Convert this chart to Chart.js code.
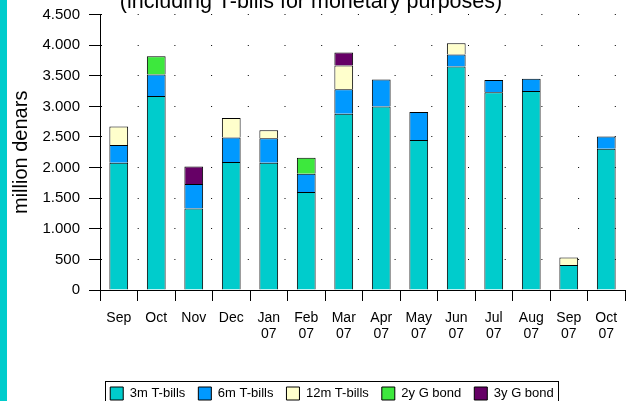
<!DOCTYPE html>
<html>
<head>
<meta charset="utf-8">
<script src="https://cdn.jsdelivr.net/npm/chart.js@4.4.0/dist/chart.umd.min.js"></script>
<style>
  html, body { margin: 0; padding: 0; background: #fff; overflow: hidden; }
  #wrap { position: relative; width: 627px; height: 401px; overflow: hidden; }
  #stripe { position: absolute; left: 0; top: 0; width: 7px; height: 401px; background: #00cccc; }
  canvas { position: absolute; left: 0; top: 0; }
</style>
</head>
<body>
<div id="wrap">
  <canvas id="chart" width="627" height="410" style="width:627px;height:410px"></canvas>
  <div id="stripe"></div>
</div>
<script>
const titleText = '(including T-bills for monetary purposes)';
const months = ['Sep', 'Oct', 'Nov', 'Dec', ['Jan', '07'], ['Feb', '07'], ['Mar', '07'], ['Apr', '07'],
  ['May', '07'], ['Jun', '07'], ['Jul', '07'], ['Aug', '07'], ['Sep', '07'], ['Oct', '07']];

// million denars, stacked
const bills3m  = [2080, 3170, 1330, 2090, 2080, 1600, 2880, 3000, 2450, 3650, 3230, 3250, 410, 2310];
const bills6m  = [290, 350, 400, 400, 400, 300, 400, 440, 460, 200, 200, 200, null, 200];
const bills12m = [300, null, null, 320, 130, null, 390, null, null, 180, null, null, 120, null];
const bond2y   = [null, 300, null, null, null, 260, null, null, null, null, null, null, null, null];
const bond3y   = [null, null, 290, null, null, null, 210, null, null, null, null, null, null, null];

Chart.defaults.font.family = '"Liberation Sans", Arial, sans-serif';
Chart.defaults.color = '#000';

function dots(v) {
  return String(v).replace(/\B(?=(\d{3})+(?!\d))/g, '.');
}

// title sits partly above the picture, legend gets a frame like the original
const frame = {
  id: 'frame',
  afterDraw(chart) {
    const ctx = chart.ctx;
    ctx.save();
    ctx.font = '21.5px "Liberation Sans", Arial, sans-serif';
    ctx.fillStyle = '#000';
    ctx.textAlign = 'center';
    ctx.textBaseline = 'alphabetic';
    ctx.fillText(titleText, 311, 7.5);

    const hb = chart.legend.legendHitBoxes;
    const first = hb[0], last = hb[hb.length - 1];
    const l = Math.round(first.left - 5) + 0.5;
    const t = Math.round(first.top - 6) + 0.5;
    const r = Math.round(last.left + last.width + 4) + 0.5;
    ctx.strokeStyle = '#000';
    ctx.lineWidth = 1;
    ctx.strokeRect(l, t, r - l, 40);
    ctx.restore();
  }
};

const ds = (label, data, color) => ({
  label, data, backgroundColor: color, borderColor: '#000', borderWidth: 1,
  categoryPercentage: 1, barPercentage: 0.5
});

new Chart(document.getElementById('chart'), {
  type: 'bar',
  data: {
    labels: months,
    datasets: [
      ds('3m T-bills', bills3m, '#00cccc'),
      ds('6m T-bills', bills6m, '#0099ff'),
      ds('12m T-bills', bills12m, '#ffffcc'),
      ds('2y G bond', bond2y, '#3de83d'),
      ds('3y G bond', bond3y, '#660066')
    ]
  },
  options: {
    responsive: false,
    animation: false,
    devicePixelRatio: 1,
    layout: { padding: { left: 39, right: 2, top: 14.6, bottom: 0 } },
    plugins: {
      title: { display: false },
      tooltip: { enabled: false },
      legend: {
        position: 'bottom',
        labels: { boxWidth: 13, boxHeight: 13, padding: 13, font: { size: 13 }, color: '#000' }
      }
    },
    scales: {
      x: {
        stacked: true,
        grid: { display: true, drawOnChartArea: false, offset: true, tickLength: 11, color: '#000' },
        border: { color: '#000' },
        ticks: { font: { size: 14, lineHeight: 1.15 }, padding: 9, maxRotation: 0, autoSkip: false },
        afterFit(s) { s.height = 84; s.paddingLeft = 0; s.paddingRight = 0; }
      },
      y: {
        stacked: true,
        min: 0,
        max: 4500,
        ticks: { stepSize: 500, padding: 9, font: { size: 15 }, callback: v => dots(v) },
        grid: { color: '#000', tickLength: 11 },
        border: { color: '#000', dash: [1, 35.7] },
        title: { display: true, text: 'million denars', font: { size: 20 }, padding: { top: -30, bottom: 0 } },
        afterFit(s) { s.width = 61; s.paddingTop = 0; s.paddingBottom = 0; }
      }
    }
  },
  plugins: [frame]
});
</script>
</body>
</html>
